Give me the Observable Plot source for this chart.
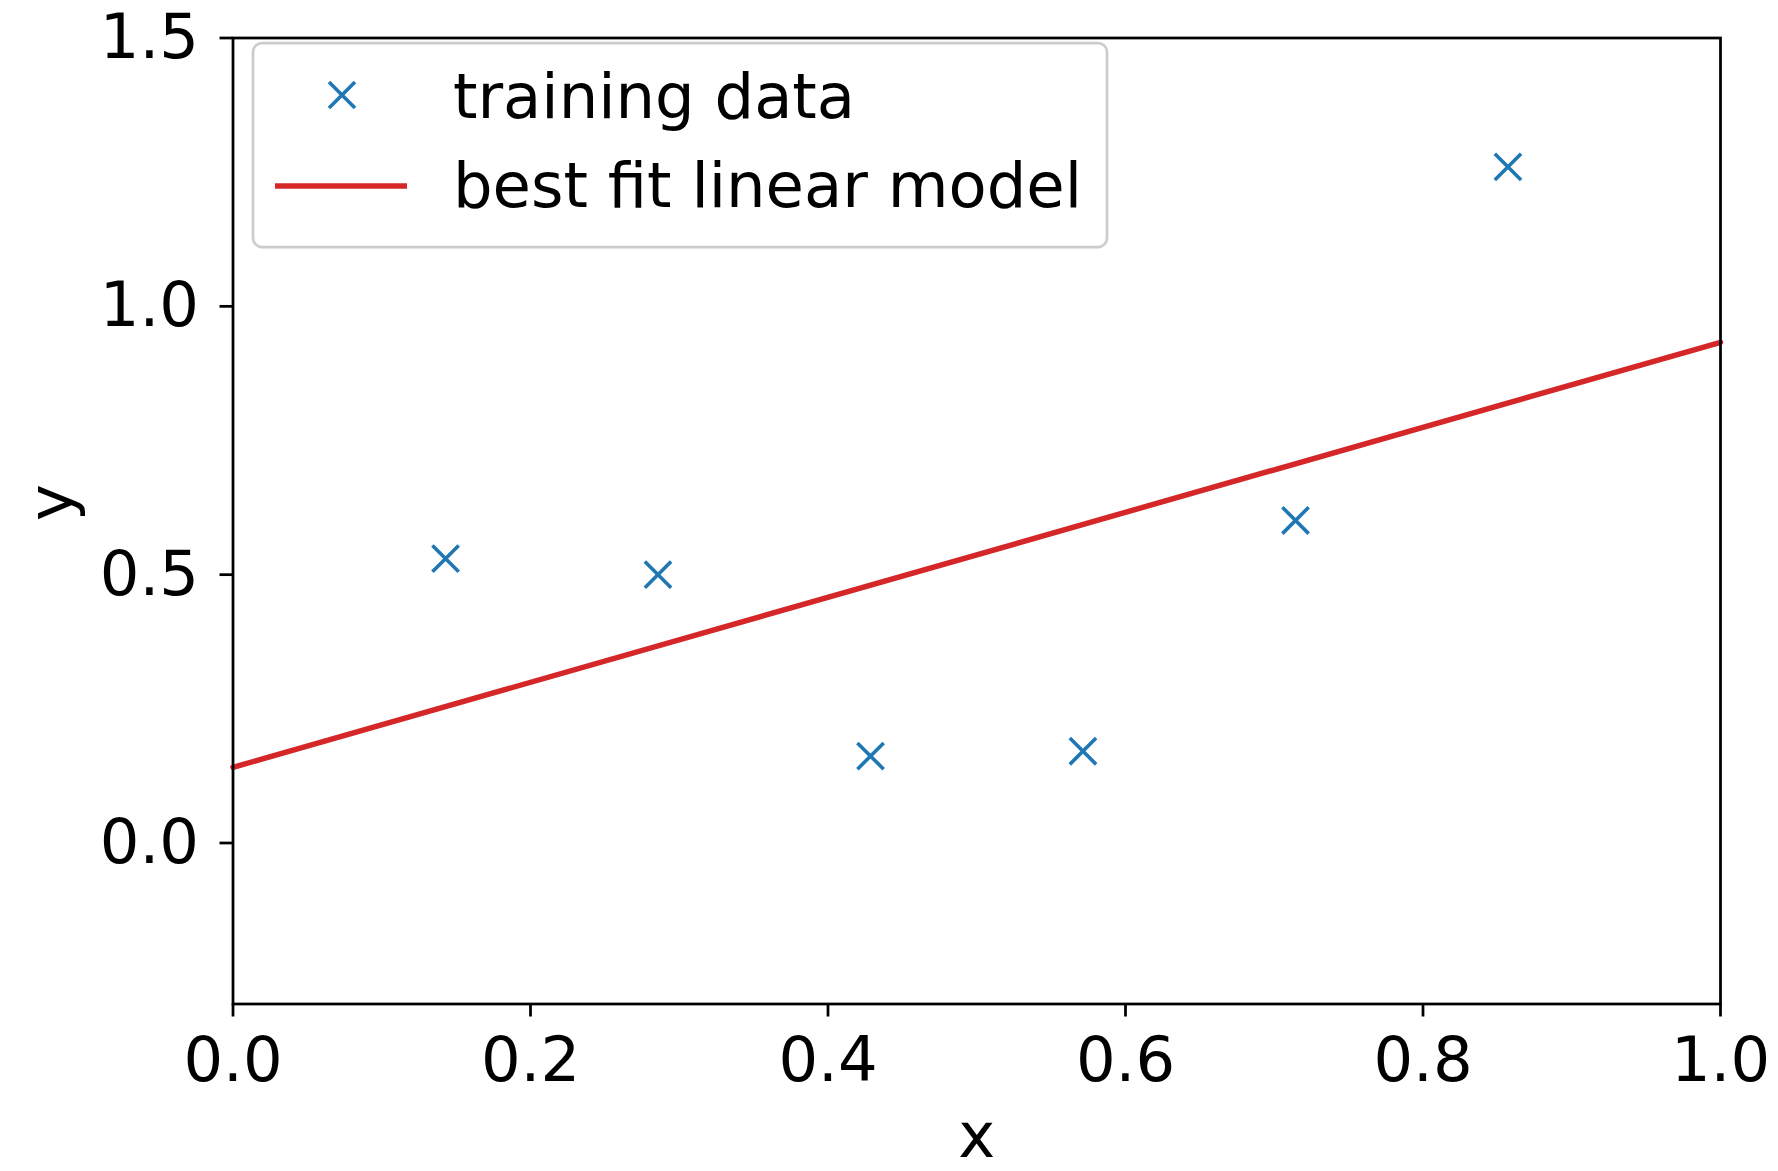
<!DOCTYPE html>
<html>
<head>
<meta charset="utf-8">
<script src="https://cdn.jsdelivr.net/npm/d3@7"></script>
<script src="https://cdn.jsdelivr.net/npm/@observablehq/plot@0.6"></script>
<style>
  html, body { margin: 0; padding: 0; background: #fff; }
  #wrap { position: relative; width: 1778px; height: 1171px; font-family: "DejaVu Sans", sans-serif; }
  #legend { position: absolute; left: 0; top: 0; pointer-events: none; }
</style>
</head>
<body>
<div id="wrap"></div>
<script>
// ---- data ----
const trainX = [0.1429, 0.2857, 0.4286, 0.5714, 0.7143, 0.8571];
const trainY = [0.530, 0.500, 0.162, 0.171, 0.601, 1.260];
const fitX = [0.0, 1.0];
const fitY = [0.141, 0.933];
const xTicks = [0.0, 0.2, 0.4, 0.6, 0.8, 1.0];
const yTicks = [0.0, 0.5, 1.0, 1.5];
const xLabel = "x";
const yLabel = "y";
const legendLabels = ["training data", "best fit linear model"];
const blue = "#1f77b4";
const red = "#d62728";

const points = trainX.map((x, i) => ({x, y: trainY[i]}));
const fit = fitX.map((x, i) => ({x, y: fitY[i]}));

const FS = 62.4;
const chart = Plot.plot({
  width: 1778,
  height: 1171,
  marginLeft: 232.5,
  marginRight: 58,
  marginTop: 37.5,
  marginBottom: 167.5,
  style: {fontFamily: "DejaVu Sans, sans-serif", fontSize: FS + "px", background: "#fff", color: "#000", overflow: "visible"},
  x: {domain: [0, 1]},
  y: {domain: [-0.3, 1.5]},
  marks: [
    Plot.line(fit, {x: "x", y: "y", stroke: red, strokeWidth: 5.5}),
    Plot.dot(points, {x: "x", y: "y", symbol: "times", r: 12, stroke: blue, strokeWidth: 3.6}),
    Plot.frame({stroke: "#000", strokeWidth: 2.75}),
    Plot.axisX({ticks: xTicks, tickFormat: d3.format(".1f"), tickSize: 13, tickPadding: 20, strokeWidth: 2.75, label: null, fontSize: FS}),
    Plot.axisY({ticks: yTicks, tickFormat: d3.format(".1f"), tickSize: 13, tickPadding: 21, strokeWidth: 2.75, label: null, fontSize: FS}),
    Plot.text([xLabel], {frameAnchor: "bottom", text: d => d, lineAnchor: "bottom", dy: 153, fontSize: FS}),
    Plot.text([yLabel], {frameAnchor: "left", text: d => d, rotate: -90, lineAnchor: "bottom", dx: -161.5, fontSize: FS})
  ]
});
const wrap = document.getElementById("wrap");
wrap.appendChild(chart);

// ---- legend overlay ----
const svg = d3.select(wrap).append("svg")
  .attr("id", "legend")
  .attr("width", 1778).attr("height", 1171);
svg.append("rect")
  .attr("x", 253).attr("y", 43).attr("width", 854).attr("height", 204)
  .attr("rx", 9).attr("ry", 9)
  .attr("fill", "#fff").attr("fill-opacity", 0.8)
  .attr("stroke", "#cccccc").attr("stroke-width", 2.75);
const m = 13;
svg.append("path")
  .attr("d", `M${342 - m},${95 - m}L${342 + m},${95 + m}M${342 - m},${95 + m}L${342 + m},${95 - m}`)
  .attr("stroke", blue).attr("stroke-width", 3.6).attr("fill", "none");
svg.append("line")
  .attr("x1", 275).attr("x2", 407).attr("y1", 186).attr("y2", 186)
  .attr("stroke", red).attr("stroke-width", 5.5);
svg.selectAll("text.lg").data(legendLabels).join("text")
  .attr("class", "lg")
  .attr("x", 453)
  .attr("y", (d, i) => i === 0 ? 118 : 207)
  .attr("font-family", "DejaVu Sans, sans-serif")
  .attr("font-size", FS)
  .attr("fill", "#000")
  .text(d => d);
</script>
</body>
</html>
